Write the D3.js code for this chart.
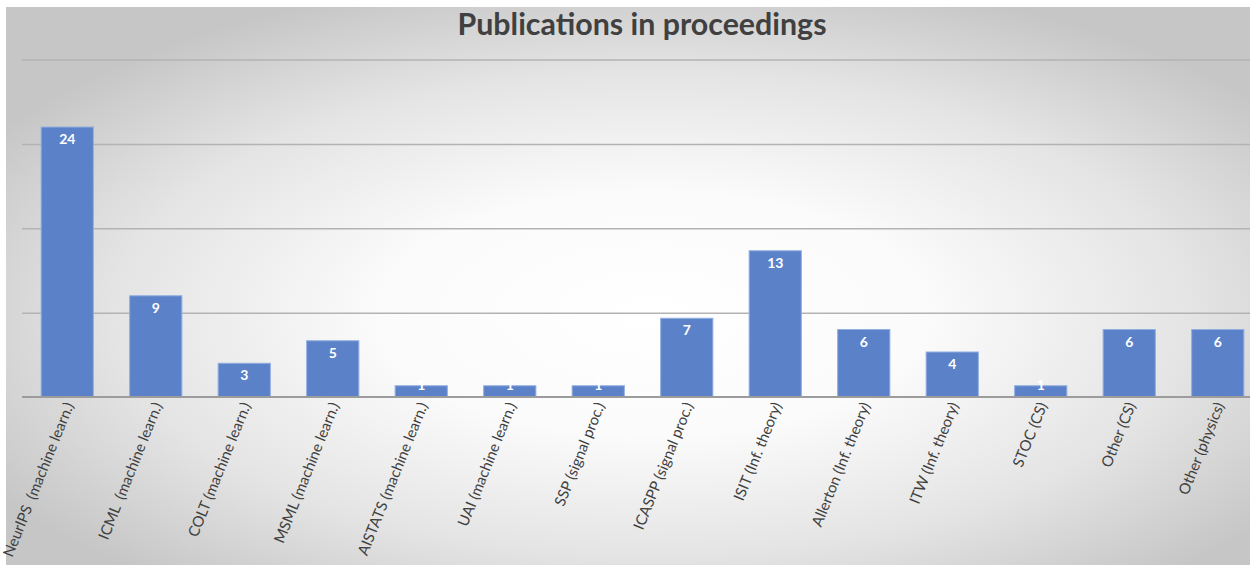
<!DOCTYPE html>
<html>
<head>
<meta charset="utf-8">
<script src="https://cdn.jsdelivr.net/npm/d3@7/dist/d3.min.js"></script>
<style>
html,body{margin:0;padding:0;background:#fff;}
svg{display:block;}
.tick text{white-space:pre;}
</style>
</head>
<body>
<svg id="chart" width="1250" height="565"></svg>
<script>
const categories = ["NeurIPS  (machine learn.)","ICML  (machine learn.)","COLT (machine learn.)","MSML (machine learn.)","AISTATS (machine learn.)","UAI (machine learn.)","SSP (signal proc.)","ICASPP (signal proc.)","ISIT (Inf. theory)","Allerton (Inf. theory)","ITW (Inf. theory)","STOC (CS)","Other (CS)","Other (physics)"];
const values = [24,9,3,5,1,1,1,7,13,6,4,1,6,6];
const gridTicks = [0,7.5,15,22.5,30];
const titleText = "Publications in proceedings";

const W = 1250, H = 565;
const svg = d3.select("#chart");
const defs = svg.append("defs");
const grad = defs.append("radialGradient").attr("id","bg")
  .attr("cx","0.52").attr("cy","0.55").attr("r","0.62").attr("fx","0.52").attr("fy","0.55");
grad.append("stop").attr("offset","0").attr("stop-color","#ffffff");
grad.append("stop").attr("offset","0.35").attr("stop-color","#fbfbfb");
grad.append("stop").attr("offset","0.7").attr("stop-color","#e4e4e4");
grad.append("stop").attr("offset","1").attr("stop-color","#c6c6c6");

svg.append("rect").attr("x",6).attr("y",7).attr("width",W-6).attr("height",H-7).attr("fill","url(#bg)");

const x = d3.scaleBand().domain(categories).range([23, 1262]).paddingInner(0.41).paddingOuter(0.205);
const y = d3.scaleLinear().domain([0,30]).range([397, 59.5]);

// gridlines
const gAxis = svg.append("g").attr("transform","translate(22,0)")
  .call(d3.axisLeft(y).tickValues(gridTicks.slice(1)).tickSize(-(W-22)).tickFormat(""));
gAxis.select(".domain").remove();
gAxis.selectAll(".tick line").attr("stroke","#b3b3b3").attr("stroke-width",1.5);

// bars
svg.append("g").selectAll("rect").data(values).join("rect")
  .attr("x",(d,i)=>x(categories[i]))
  .attr("y",d=>y(d))
  .attr("width",x.bandwidth())
  .attr("height",d=>y(0)-y(d))
  .attr("fill","#5b82c9")
  .attr("stroke","#93aee0")
  .attr("stroke-width",1);

// baseline axis
const xAxis = svg.append("g").attr("transform",`translate(0,${y(0)})`)
  .call(d3.axisBottom(x).tickSize(0).tickPadding(0));
xAxis.select(".domain").attr("d",`M22,0H${W}`).attr("stroke","#9c9c9c").attr("stroke-width",2);
xAxis.selectAll(".tick text")
  .attr("xml:space","preserve")
  .attr("font-family","Lato, 'Open Sans', sans-serif")
  .attr("font-size","15px")
  .attr("fill","#404040")
  .attr("text-anchor","end")
  .attr("transform","translate(2,6) rotate(-68)")
  .attr("x",0).attr("y",0).attr("dy","0.35em");

// value labels
svg.append("g").selectAll("text").data(values).join("text")
  .attr("x",(d,i)=>x(categories[i])+x.bandwidth()/2)
  .attr("y",d=>Math.min(y(d)+17, y(0)-7))
  .attr("text-anchor","middle")
  .attr("font-family","Lato, 'Open Sans', sans-serif")
  .attr("font-weight","bold")
  .attr("font-size","14px")
  .attr("fill","#ffffff")
  .text(d=>d);

// title
const t = svg.append("text").attr("x",642).attr("y",35)
  .attr("text-anchor","middle")
  .attr("font-family","Lato, 'Open Sans', sans-serif")
  .attr("font-weight","bold")
  .attr("font-size","28px")
  .attr("fill","#404040")
  .text(titleText);
const tl = t.node().getComputedTextLength();
t.attr("font-size", (28*369/tl).toFixed(2)+"px");
</script>
</body>
</html>
